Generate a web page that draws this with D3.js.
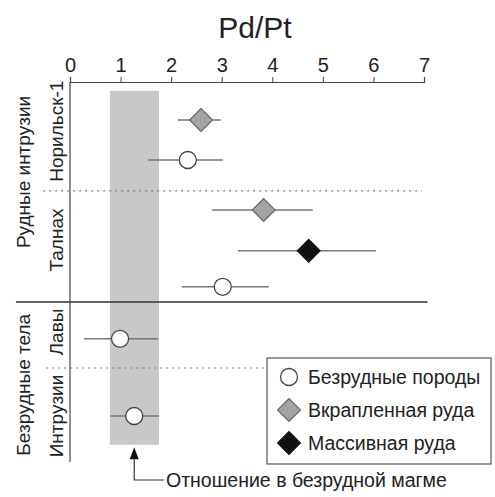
<!DOCTYPE html>
<html>
<head>
<meta charset="utf-8">
<script src="https://cdn.jsdelivr.net/npm/d3@7.9.0/dist/d3.min.js"></script>
<style>
  body { margin: 0; background: #fff; }
  svg { font-family: "Liberation Sans", Arial, sans-serif; }
</style>
</head>
<body>
<svg id="chart" width="495" height="497"></svg>
<script>
// x ticks
const xTicks = [0, 1, 2, 3, 4, 5, 6, 7];

// data rows: row position (in row units), value, low, high, type
const rowPos = [0.95, 1.95, 3.2, 4.22, 5.12, 6.42, 8.35];
const values = [2.59, 2.33, 3.83, 4.72, 3.02, 0.99, 1.27];
const lows   = [2.13, 1.54, 2.81, 3.32, 2.21, 0.28, 0.80];
const highs  = [2.98, 3.02, 4.80, 6.05, 3.93, 1.74, 1.76];
const types  = ['dis', 'barren', 'dis', 'mass', 'barren', 'barren', 'barren'];

// barren magma band
const band = [0.79, 1.76];
const bandRows = [0.22, 9.07];

// separators (row units)
const dotted = [{ y: 2.72, x0: -0.53, x1: 6.96 }, { y: 7.15, x0: -0.47, x1: 3.9 }];
const solid = [{ y: 5.5, x0: -1.07, x1: 7.07 }];

// group labels
const outerLabels = [{ text: 'Рудные интрузии', y: 2.25 }, { text: 'Безрудные тела', y: 7.57 }];
const innerLabels = [
  { text: 'Норильск-1', y: 1.23 }, { text: 'Талнах', y: 3.95 },
  { text: 'Лавы', y: 6.25 }, { text: 'Интрузии', y: 8.35 }
];

const legendItems = [
  { type: 'barren', text: 'Безрудные породы' },
  { type: 'dis', text: 'Вкрапленная руда' },
  { type: 'mass', text: 'Массивная руда' }
];

const fills = { barren: '#ffffff', dis: '#a3a3a3', mass: '#111111' };
const strokes = { barren: '#444', dis: '#666', mass: '#111' };

const svg = d3.select('#chart');

const x = d3.scaleLinear().domain([0, 7]).range([70, 424]);
const y = d3.scaleLinear().domain([0, 1]).range([82, 122]);

// grey band
svg.append('rect')
  .attr('x', x(band[0]))
  .attr('y', y(bandRows[0]))
  .attr('width', x(band[1]) - x(band[0]))
  .attr('height', y(bandRows[1]) - y(bandRows[0]))
  .attr('fill', '#c8c8c8');

// title
svg.append('text')
  .attr('x', 255).attr('y', 38)
  .attr('text-anchor', 'middle')
  .attr('font-size', 30)
  .attr('fill', '#222')
  .text('Pd/Pt');

// top axis
const axis = svg.append('g')
  .attr('transform', `translate(0,${y(0)})`)
  .call(d3.axisTop(x).tickValues(xTicks).tickFormat(d3.format('d')).tickSize(5).tickPadding(5));
axis.select('.domain').attr('stroke', '#444').attr('stroke-width', 1.2);
axis.selectAll('.tick line').attr('stroke', '#444');
axis.selectAll('.tick text').attr('font-size', 20).attr('fill', '#222')
  .attr('font-family', '"Liberation Sans", Arial, sans-serif');

// left vertical line
svg.append('line')
  .attr('x1', x(0)).attr('x2', x(0))
  .attr('y1', y(0)).attr('y2', y(9.5))
  .attr('stroke', '#444').attr('stroke-width', 1.2);

// separators
svg.selectAll('.dotted').data(dotted).join('line')
  .attr('x1', d => x(d.x0)).attr('x2', d => x(d.x1))
  .attr('y1', d => y(d.y)).attr('y2', d => y(d.y))
  .attr('stroke', '#777').attr('stroke-width', 1.2)
  .attr('stroke-dasharray', '2,4');

svg.selectAll('.solid').data(solid).join('line')
  .attr('x1', d => x(d.x0)).attr('x2', d => x(d.x1))
  .attr('y1', d => y(d.y)).attr('y2', d => y(d.y))
  .attr('stroke', '#333').attr('stroke-width', 1.4);

// group labels (rotated)
svg.selectAll('.outer').data(outerLabels).join('text')
  .attr('transform', d => `translate(30,${y(d.y)}) rotate(-90)`)
  .attr('text-anchor', 'middle')
  .attr('font-size', 19).attr('fill', '#222')
  .text(d => d.text);

svg.selectAll('.inner').data(innerLabels).join('text')
  .attr('transform', d => `translate(63,${y(d.y)}) rotate(-90)`)
  .attr('text-anchor', 'middle')
  .attr('font-size', 19).attr('fill', '#222')
  .text(d => d.text);

// points
const pts = rowPos.map((r, i) => ({ r, v: values[i], lo: lows[i], hi: highs[i], type: types[i] }));

svg.selectAll('.err').data(pts).join('line')
  .attr('x1', d => x(d.lo)).attr('x2', d => x(d.hi))
  .attr('y1', d => y(d.r)).attr('y2', d => y(d.r))
  .attr('stroke', '#777').attr('stroke-width', 1.5);

const diamond = d3.symbol().type(d3.symbolSquare).size(260);

function drawMarker(sel, type) {
  if (type === 'barren') {
    sel.append('circle').attr('r', 8.5)
      .attr('fill', fills[type]).attr('stroke', strokes[type]).attr('stroke-width', 1.3);
  } else {
    sel.append('path').attr('d', diamond()).attr('transform', 'rotate(45)')
      .attr('fill', fills[type]).attr('stroke', strokes[type]).attr('stroke-width', 1.2);
  }
}

svg.selectAll('.pt').data(pts).join('g')
  .attr('transform', d => `translate(${x(d.v)},${y(d.r)})`)
  .each(function (d) { drawMarker(d3.select(this), d.type); });

// arrow from the band
const arrowX = x(1.27);
svg.append('path')
  .attr('d', `M${arrowX},${y(9.13)} L${arrowX - 4.5},${y(9.43)} L${arrowX + 4.5},${y(9.43)} Z`)
  .attr('fill', '#111');
svg.append('path')
  .attr('d', `M${arrowX},${y(9.4)} V480 H164`)
  .attr('fill', 'none').attr('stroke', '#333').attr('stroke-width', 1.2);
svg.append('text')
  .attr('x', 166).attr('y', 487)
  .attr('font-size', 19.5).attr('fill', '#222')
  .text('Отношение в безрудной магме');

// legend
const lg = svg.append('g');
lg.append('rect')
  .attr('x', 267).attr('y', 358).attr('width', 224).attr('height', 106)
  .attr('fill', '#fff').attr('stroke', '#555').attr('stroke-width', 1.2);
const li = lg.selectAll('.li').data(legendItems).join('g')
  .attr('transform', (d, i) => `translate(289,${377 + i * 33})`);
li.each(function (d) { drawMarker(d3.select(this), d.type); });
li.append('text')
  .attr('x', 19).attr('y', 7)
  .attr('font-size', 19.5).attr('fill', '#222')
  .text(d => d.text);
</script>
</body>
</html>
